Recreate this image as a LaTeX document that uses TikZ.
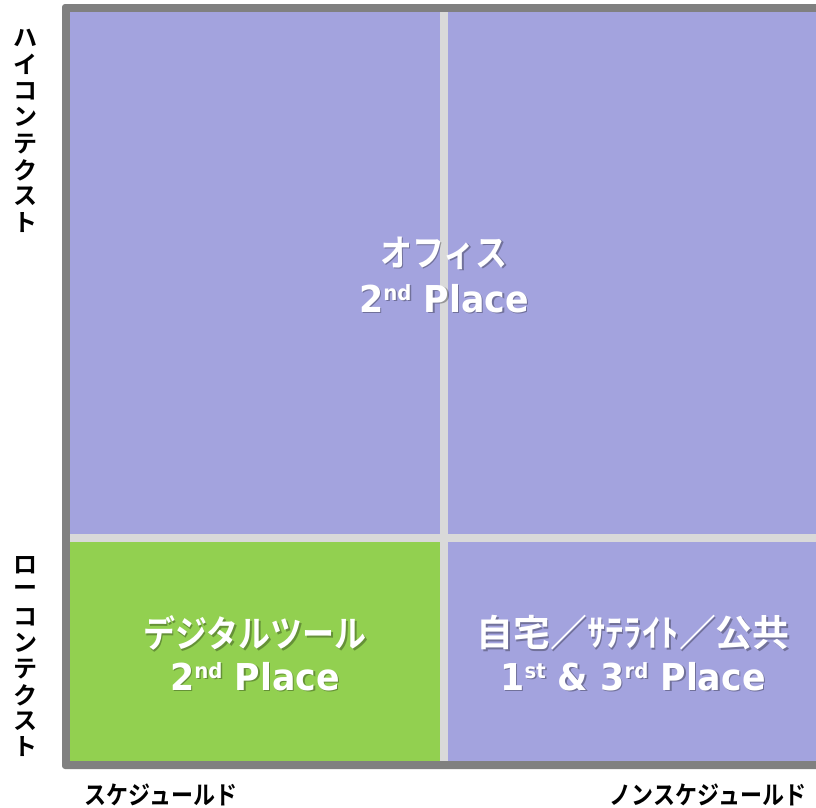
\documentclass[tikz,border=0pt]{standalone}
\usepackage{fontspec}
\usepackage{graphicx}
\newfontfamily\jp{Noto Sans CJK JP}[BoldFont={Noto Sans CJK JP Bold}]
\newfontfamily\lat{DejaVu Sans}[FakeStretch=0.94]
\definecolor{cellpurple}{HTML}{A3A3DE}
\definecolor{cellgreen}{HTML}{92D050}
\definecolor{framegray}{HTML}{808080}
\definecolor{divgray}{HTML}{D9D9D9}
\newcommand\sups[1]{\raisebox{12pt}{\fontsize{21}{21}\selectfont #1}}
\newcommand\vs[1]{\scalebox{1}[1.15]{#1}}
\newcommand\hvs[1]{\scalebox{1.15}[1.15]{#1}}
\begin{document}
\begin{tikzpicture}[x=1pt,y=-1pt,
  jpline/.style={font={\jp\bfseries\fontsize{32}{32}\selectfont}, inner sep=0pt, anchor=center, text=white},
  latline/.style={font={\lat\bfseries\fontsize{37}{37}\selectfont}, inner sep=0pt, anchor=base, text=white},
  shad/.style={text=black, text opacity=0.3, xshift=1.5pt, yshift=-1.5pt},
  axlabel/.style={font={\jp\bfseries\fontsize{22}{22}\selectfont}, inner sep=0pt, text=black},
  vlabel/.style={font={\jp\bfseries\fontsize{24}{24}\selectfont}, inner sep=0pt, text=black}]
\useasboundingbox (0,0) rectangle (816,807);
\clip (0,0) rectangle (816,807);
% frame and cells
\fill[framegray, rounded corners=3pt] (62,4) rectangle (840,769);
\fill[cellpurple] (70,12) rectangle (840,761);
\fill[cellgreen] (70,542) rectangle (440,761);
\fill[divgray] (440,12) rectangle (448,761);
\fill[divgray] (70,534) rectangle (840,542);
% cell texts: shadows
\node[jpline, shad] (offjs) at (444,253) {\vs{オフィス}};
\node[latline, shad] (offls) at (444,312) {2\sups{nd} Place};
\node[jpline, shad] (digjs) at (255,633) {\vs{デジタルツール}};
\node[latline, shad] (digls) at (255,690) {2\sups{nd} Place};
\node[jpline, shad] (homjs) at (633,633) {\hvs{自宅／ｻﾃﾗｲﾄ／公共}};
\node[latline, shad] (homls) at (633,690) {1\sups{st} \& 3\sups{rd} Place};
% cell texts
\node[jpline] (offj) at (444,253) {\vs{オフィス}};
\node[latline] (offl) at (444,312) {2\sups{nd} Place};
\node[jpline] (digj) at (255,633) {\vs{デジタルツール}};
\node[latline] (digl) at (255,690) {2\sups{nd} Place};
\node[jpline] (homj) at (633,633) {\hvs{自宅／ｻﾃﾗｲﾄ／公共}};
\node[latline] (homl) at (633,690) {1\sups{st} \& 3\sups{rd} Place};
% vertical axis labels
\foreach \c [count=\i] in {ハ,イ,コ,ン,テ,ク,ス,ト}
  \node[vlabel] (hi\i) at (25,{38+26.4*(\i-1)}) {\c};
\foreach \c [count=\i] in {ロ,ー,コ,ン,テ,ク,ス,ト}
  \node[vlabel] (lo\i) at (25,{565+26*(\i-1)}) {\c};
% horizontal axis labels
\node[axlabel] (sched) at (161,795) {\vs{スケジュールド}};
\node[axlabel] (nonsched) at (708,795) {\vs{ノンスケジュールド}};
\end{tikzpicture}
\end{document}
